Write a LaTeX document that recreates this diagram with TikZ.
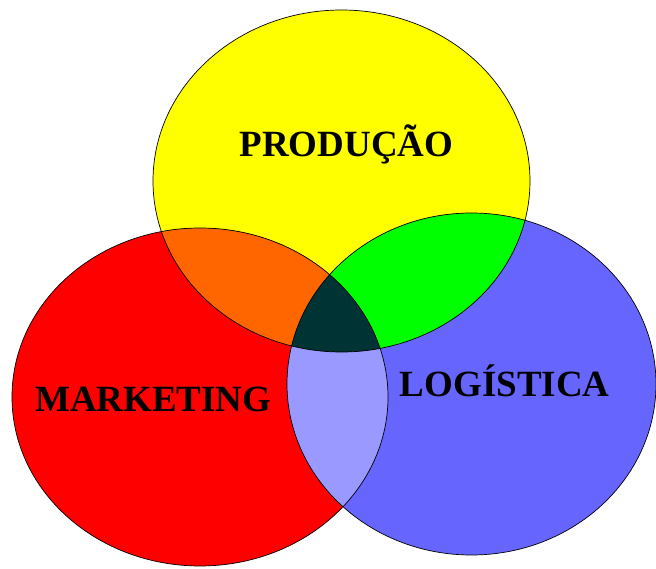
\documentclass[tikz,border=0pt]{standalone}
\usepackage{fontspec}
\setmainfont{Liberation Serif}
\usepackage{tikz}

\definecolor{prodyellow}{HTML}{FFFF00}
\definecolor{mktred}{HTML}{FF0000}
\definecolor{logblue}{HTML}{6666FF}
\definecolor{pmorange}{HTML}{FF6600}
\definecolor{plgreen}{HTML}{00FF00}
\definecolor{mllilac}{HTML}{9999FF}
\definecolor{allteal}{HTML}{003333}

\def\prodarea{(341.5,181) ellipse [x radius=188.5pt,y radius=171pt]}
\def\mktarea{(200,397) ellipse [x radius=188pt,y radius=169pt]}
\def\logarea{(471.5,384) ellipse [x radius=184.5pt,y radius=171pt]}

\begin{document}
\begin{tikzpicture}[x=1pt,y=-1pt,venntext/.style={font=\fontsize{37}{40}\selectfont\bfseries,inner sep=0pt,anchor=base}]
  \useasboundingbox (0,0) rectangle (656,569);
  %single sets
  \fill[prodyellow] \prodarea;
  \fill[mktred] \mktarea;
  \fill[logblue] \logarea;
  %pairs
  \begin{scope}
    \clip \prodarea;
    \fill[pmorange] \mktarea;
    \fill[plgreen] \logarea;
  \end{scope}
  \begin{scope}
    \clip \mktarea;
    \fill[mllilac] \logarea;
    %all three
    \clip \prodarea;
    \fill[allteal] \logarea;
  \end{scope}
  %outlines
  \draw[line width=0.7pt] \prodarea \mktarea \logarea;
  %labels
  \node[venntext] (prod) at (346.5,157) {PRODUÇÃO};
  \node[venntext] (mkt) at (153.3,411.7) {MARKETING};
  \node[venntext] (log) at (504.7,396.7) {LOGÍSTICA};
\end{tikzpicture}
\end{document}
